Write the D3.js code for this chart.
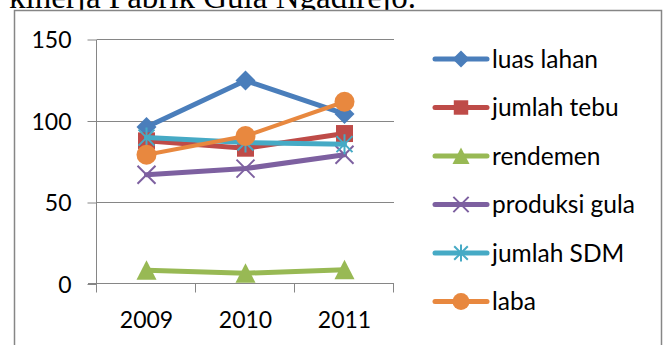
<!DOCTYPE html>
<meta charset="utf-8">
<html>
<head>
<style>
  body { margin: 0; background: #fff; }
  text { font-family: Lato, "Open Sans", sans-serif; fill: #000; }
  .title { font-family: "Liberation Serif", "Times New Roman", serif; }
</style>
<script src="https://d3js.org/d3.v7.min.js"></script>
</head>
<body>
<svg width="666" height="345"></svg>
<script>

// data
var years = ["2009", "2010", "2011"];
var yTicks = [0, 50, 100, 150];
var seriesNames = ["luas lahan", "jumlah tebu", "rendemen", "produksi gula", "jumlah SDM", "laba"];
var luasLahan    = [96, 124.5, 104];
var jumlahTebu   = [87.5, 83, 92];
var rendemen     = [8.2, 6.3, 8.4];
var produksiGula = [66.7, 70.5, 79];
var jumlahSDM    = [89.5, 86.5, 85.5];
var laba         = [79, 90.5, 111.5];
var colors  = ["#4a7ebb", "#be4b48", "#98b954", "#7d60a0", "#46aac5", "#e8883f"];
var markers = ["diamond", "square", "triangle", "x", "star", "circle"];

var allValues = [luasLahan, jumlahTebu, rendemen, produksiGula, jumlahSDM, laba];

var svg = d3.select("svg");

var plot = {left: 97, right: 394, top: 39, bottom: 283.5};

var x = d3.scaleBand()
    .domain(years)
    .range([plot.left, plot.right]);

var y = d3.scaleLinear()
    .domain([0, 150])
    .range([plot.bottom, plot.top]);

// title text cut off at the top
svg.append("text")
    .attr("class", "title")
    .attr("x", 9)
    .attr("y", 7.5)
    .attr("font-size", 33)
    .text("kinerja Pabrik Gula Ngadirejo.");

// outer chart border
svg.append("rect")
    .attr("x", 14.5)
    .attr("y", 10.5)
    .attr("width", 647)
    .attr("height", 345)
    .attr("fill", "#fff")
    .attr("stroke", "#868686")
    .attr("stroke-width", 1.5);

// gridlines
svg.append("g")
    .selectAll("line")
    .data(yTicks.filter(function(d) { return d > 0; }))
    .enter().append("line")
    .attr("x1", plot.left)
    .attr("x2", plot.right)
    .attr("y1", function(d) { return Math.round(y(d)) + 0.5; })
    .attr("y2", function(d) { return Math.round(y(d)) + 0.5; })
    .attr("stroke", "#868686")
    .attr("stroke-width", 1);

// y axis
var yAxis = svg.append("g")
    .attr("transform", "translate(" + (plot.left - 0.5) + ",0.5)")
    .call(d3.axisLeft(y).tickValues(yTicks).tickSize(9).tickPadding(16));
yAxis.selectAll("line, path").attr("stroke", "#868686");
yAxis.select(".domain").attr("d", "M0," + y(150) + "V" + y(0));
yAxis.selectAll("text")
    .attr("font-size", 23)
    .attr("font-family", "Lato, sans-serif")
    .attr("fill", "#000")
    .attr("dy", "0.36em");

// x axis
var xAxis = svg.append("g")
    .attr("transform", "translate(0," + (Math.round(plot.bottom) - 0.5) + ")")
    .call(d3.axisBottom(x).tickSize(0).tickPadding(28));
xAxis.select(".domain")
    .attr("stroke", "#868686")
    .attr("d", "M" + (plot.left - 9) + ",0H" + plot.right);
xAxis.selectAll("text")
    .attr("font-size", 23)
    .attr("font-family", "Lato, sans-serif")
    .attr("fill", "#000");
// tick marks between categories
xAxis.append("g")
    .selectAll("line")
    .data(years.concat(["end"]))
    .enter().append("line")
    .attr("x1", function(d, i) { return Math.round(plot.left + i * x.bandwidth()) - 0.5; })
    .attr("x2", function(d, i) { return Math.round(plot.left + i * x.bandwidth()) - 0.5; })
    .attr("y1", 0)
    .attr("y2", 9)
    .attr("stroke", "#868686");

// marker shapes
function markerPath(type, s) {
    var h = s / 2;
    if (type === "diamond") return "M0," + (-h) + "L" + h + ",0L0," + h + "L" + (-h) + ",0Z";
    if (type === "square") { var q = h * 0.85; return "M" + (-q) + "," + (-q) + "H" + q + "V" + q + "H" + (-q) + "Z"; }
    if (type === "triangle") return "M0," + (-h) + "L" + h + "," + h * 0.95 + "H" + (-h) + "Z";
    if (type === "x") { var a = h * 0.9; return "M" + (-a) + "," + (-a) + "L" + a + "," + a + "M" + (-a) + "," + a + "L" + a + "," + (-a); }
    if (type === "star") { var b = h * 0.8; return "M" + (-b) + "," + (-b) + "L" + b + "," + b + "M" + (-b) + "," + b + "L" + b + "," + (-b) + "M0," + (-h) + "V" + h; }
    return d3.arc()({innerRadius: 0, outerRadius: h, startAngle: 0, endAngle: 2 * Math.PI});
}

function drawMarker(g, type, color, s) {
    var stroked = (type === "x" || type === "star");
    g.append("path")
        .attr("d", markerPath(type, s))
        .attr("fill", stroked ? "none" : color)
        .attr("stroke", stroked ? color : "none")
        .attr("stroke-width", 2);
}

var line = d3.line()
    .x(function(d, i) { return x(years[i]) + x.bandwidth() / 2; })
    .y(function(d) { return y(d); });

// series
allValues.forEach(function(vals, k) {
    var g = svg.append("g");
    g.append("path")
        .attr("d", line(vals))
        .attr("fill", "none")
        .attr("stroke", colors[k])
        .attr("stroke-width", k === 5 ? 4 : 5)
        .attr("stroke-linejoin", "round")
        .attr("stroke-linecap", "round");
    vals.forEach(function(v, i) {
        var mg = g.append("g")
            .attr("transform", "translate(" + (x(years[i]) + x.bandwidth() / 2) + "," + y(v) + ")");
        drawMarker(mg, markers[k], colors[k], 20);
    });
});

// legend
var legend = svg.append("g")
    .selectAll("g")
    .data(seriesNames)
    .enter().append("g")
    .attr("transform", function(d, i) { return "translate(0," + (59 + i * 48.5) + ")"; });

legend.append("line")
    .attr("x1", 435)
    .attr("x2", 487)
    .attr("stroke", function(d, i) { return colors[i]; })
    .attr("stroke-width", 5)
    .attr("stroke-linecap", "round");

legend.each(function(d, i) {
    var mg = d3.select(this).append("g").attr("transform", "translate(461,0)");
    drawMarker(mg, markers[i], colors[i], 17);
});

legend.append("text")
    .attr("x", 492)
    .attr("dy", "0.36em")
    .attr("font-size", 24.5)
    .text(function(d) { return d; });

</script>
</body>
</html>
